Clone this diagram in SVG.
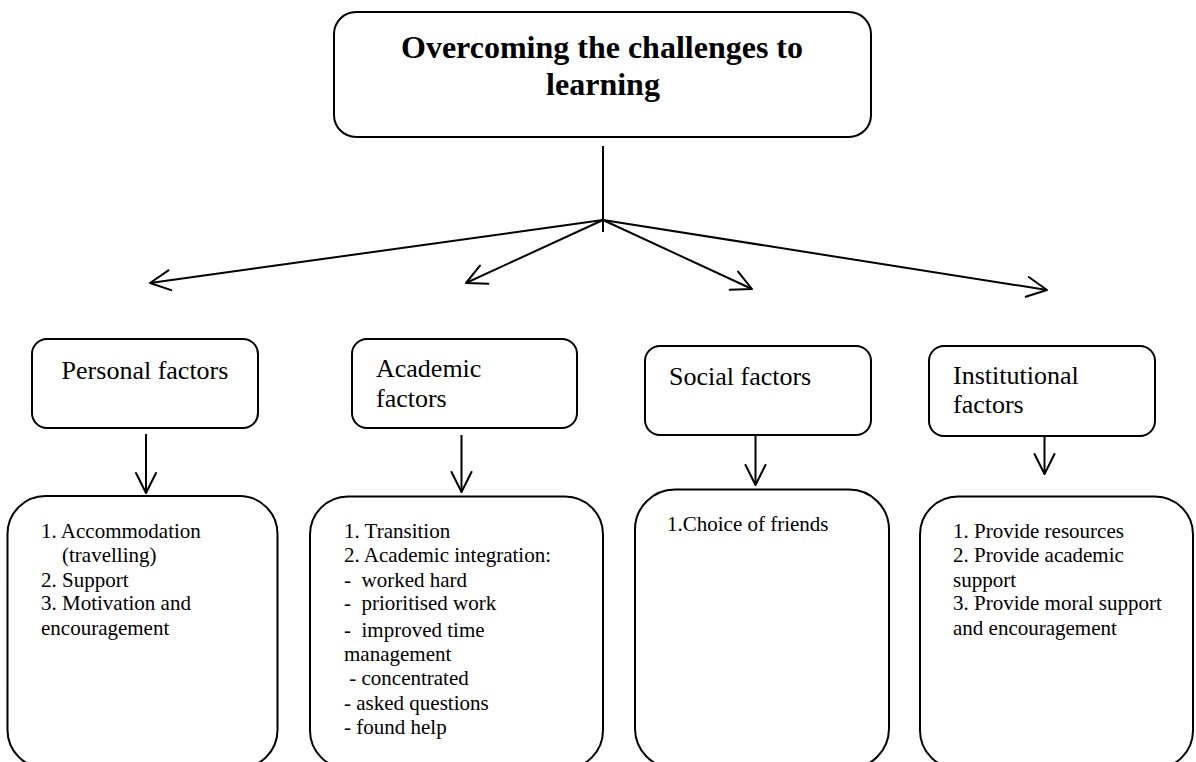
<svg xmlns="http://www.w3.org/2000/svg" width="1196" height="762" viewBox="0 0 1196 762">
<style>
.box{fill:#fff;stroke:#000;stroke-width:2}
.t{font-family:"Liberation Serif","Times New Roman",serif;fill:#000}
.title{font-size:32px;font-weight:bold}
.lbl{font-size:26px}
.item{font-size:21px;white-space:pre}
.ln{stroke:#000;stroke-width:2;fill:none}
</style>
<defs>
<marker id="arr" viewBox="0 0 24 24" refX="22" refY="12" markerWidth="24" markerHeight="24" markerUnits="userSpaceOnUse" orient="auto">
<path d="M2,2 L22,12 L2,22" fill="none" stroke="#000" stroke-width="2" stroke-linecap="round" stroke-linejoin="round"/>
</marker>
</defs>
<rect width="1196" height="762" fill="#fff"/>
<g id="connectors">
<line class="ln" x1="603" y1="146" x2="603" y2="232"/>
<line class="ln" x1="603" y1="220" x2="150" y2="283" marker-end="url(#arr)"/>
<line class="ln" x1="603" y1="220" x2="466" y2="283" marker-end="url(#arr)"/>
<line class="ln" x1="603" y1="220" x2="752" y2="289" marker-end="url(#arr)"/>
<line class="ln" x1="603" y1="220" x2="1047" y2="290" marker-end="url(#arr)"/>
<line class="ln" x1="146" y1="434" x2="146" y2="493" marker-end="url(#arr)"/>
<line class="ln" x1="461.5" y1="435" x2="461.5" y2="492" marker-end="url(#arr)"/>
<line class="ln" x1="755.5" y1="435" x2="755.5" y2="485" marker-end="url(#arr)"/>
<line class="ln" x1="1044.5" y1="436" x2="1044.5" y2="474" marker-end="url(#arr)"/>
</g>
<g id="root">
<rect class="box" x="334" y="12" width="537" height="125" rx="22"/>
<text class="t title" x="602" y="58" text-anchor="middle">Overcoming the challenges to</text>
<text class="t title" x="603" y="95" text-anchor="middle">learning</text>
</g>
<g id="personal">
<rect class="box" x="32" y="339" width="226" height="89" rx="15"/>
<text class="t lbl" x="145" y="379" text-anchor="middle">Personal factors</text>
</g>
<g id="academic">
<rect class="box" x="352" y="339" width="225" height="89" rx="15"/>
<text class="t lbl" x="376" y="377">Academic</text>
<text class="t lbl" x="376" y="407">factors</text>
</g>
<g id="social">
<rect class="box" x="645" y="346" width="226" height="89" rx="15"/>
<text class="t lbl" x="669" y="385">Social factors</text>
</g>
<g id="institutional">
<rect class="box" x="929" y="346" width="226" height="90" rx="15"/>
<text class="t lbl" x="953" y="384">Institutional</text>
<text class="t lbl" x="953" y="413">factors</text>
</g>
<g id="personal-items">
<rect class="box" x="7.5" y="496" width="270" height="272" rx="38"/>
<text class="t item" x="41" y="538">1. Accommodation</text>
<text class="t item" x="62" y="562">(travelling)</text>
<text class="t item" x="41" y="587">2. Support</text>
<text class="t item" x="41" y="610">3. Motivation and</text>
<text class="t item" x="41" y="635">encouragement</text>
</g>
<g id="academic-items">
<rect class="box" x="310" y="496.5" width="293" height="272" rx="38"/>
<text class="t item" x="344" y="538">1. Transition</text>
<text class="t item" x="344" y="562">2. Academic integration:</text>
<text class="t item" x="344" y="587">-  worked hard</text>
<text class="t item" x="344" y="610">-  prioritised work</text>
<text class="t item" x="344" y="637">-  improved time</text>
<text class="t item" x="344" y="661">management</text>
<text class="t item" x="344" y="685"> - concentrated</text>
<text class="t item" x="344" y="710">- asked questions</text>
<text class="t item" x="344" y="734">- found help</text>
</g>
<g id="social-items">
<rect class="box" x="635" y="489.5" width="254" height="279" rx="40"/>
<text class="t item" x="667" y="531">1.Choice of friends</text>
</g>
<g id="institutional-items">
<rect class="box" x="920" y="496.5" width="273" height="272" rx="38"/>
<text class="t item" x="953" y="538">1. Provide resources</text>
<text class="t item" x="953" y="562">2. Provide academic</text>
<text class="t item" x="953" y="587">support</text>
<text class="t item" x="953" y="610">3. Provide moral support</text>
<text class="t item" x="953" y="635">and encouragement</text>
</g>
</svg>
